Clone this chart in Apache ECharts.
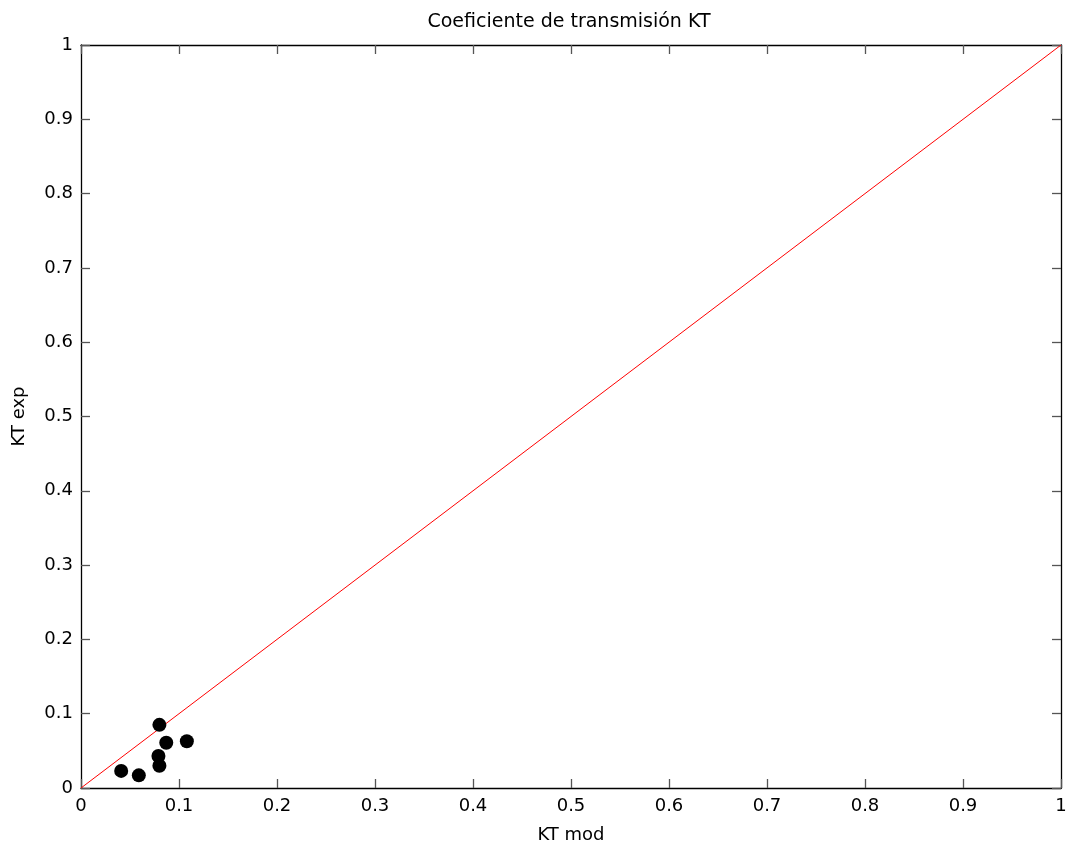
<!DOCTYPE html>
<html><head><meta charset="utf-8">
<script src="https://cdn.jsdelivr.net/npm/echarts@6/dist/echarts.min.js"></script>
<style>html,body{margin:0;padding:0;background:#fff}#c{width:1070px;height:844px}</style>
</head><body><div id="c"></div>
<script>
const titleText = 'Coeficiente de transmisión KT';
const xName = 'KT mod';
const yName = 'KT exp';
const ktMod = [0.080, 0.087, 0.108, 0.079, 0.080, 0.041, 0.059];
const ktExp = [0.085, 0.061, 0.063, 0.043, 0.030, 0.023, 0.017];
const refLine = [[0, 0], [1, 1]];

const chart = echarts.init(document.getElementById('c'));
const font = '"DejaVu Sans", Verdana, sans-serif';
const baseAxis = {
  min: 0, max: 1, interval: 0.1,
  axisLine: {show: true, onZero: false, lineStyle: {color: '#000', width: 1.3}},
  axisTick: {show: true, inside: true, length: 9, lineStyle: {color: '#555', width: 1.3}},
  splitLine: {show: false},
  axisLabel: {color: '#000', fontSize: 18, fontFamily: font,
    formatter: v => (Math.round(v * 10) / 10).toString()}
};
chart.setOption({
  animation: false,
  title: {text: titleText, left: 564, top: 8, textAlign: 'center',
    textStyle: {fontSize: 19, fontWeight: 'normal', color: '#000', fontFamily: font}},
  grid: {left: 81, right: 9, top: 45, bottom: 56, containLabel: false, outerBoundsMode: 'none'},
  xAxis: [
    Object.assign({}, baseAxis, {type: 'value', position: 'bottom', name: xName,
      nameLocation: 'middle', nameGap: 38,
      nameTextStyle: {fontSize: 18, color: '#000', fontFamily: font},
      axisLabel: Object.assign({}, baseAxis.axisLabel, {margin: 9})}),
    Object.assign({}, baseAxis, {type: 'value', position: 'top', axisLabel: {show: false}})
  ],
  yAxis: [
    Object.assign({}, baseAxis, {type: 'value', position: 'left', name: yName,
      nameLocation: 'middle', nameGap: 53,
      nameTextStyle: {fontSize: 18, color: '#000', fontFamily: font},
      axisLabel: Object.assign({}, baseAxis.axisLabel, {margin: 8})}),
    Object.assign({}, baseAxis, {type: 'value', position: 'right', axisLabel: {show: false}})
  ],
  series: [
    {type: 'line', data: refLine, symbol: 'none', lineStyle: {color: '#ff0000', width: 1}, z: 2},
    {type: 'scatter', data: ktMod.map((x, i) => [x, ktExp[i]]), symbol: 'circle', symbolSize: 14,
      itemStyle: {color: '#000', opacity: 1}, z: 3}
  ]
});
</script></body></html>
